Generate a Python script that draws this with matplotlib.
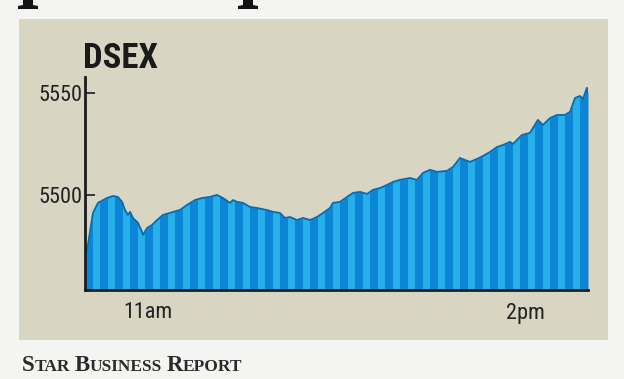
import matplotlib
matplotlib.use("Agg")
import matplotlib.pyplot as plt
from matplotlib.patches import Rectangle, Polygon
from matplotlib import font_manager

# ---- data (minutes after 10:30 market open, DSEX index value) ----
minutes = [0, 1.4, 3.8, 6.2, 10.5, 13.4, 15.7, 17.7, 19.1, 20.5, 21.5, 22.9, 25.3,
           27.2, 27.7, 29.6, 32.0, 34.4, 37.2, 40.6, 42.0, 45.3, 48.7, 52.5, 55.8,
           59.6, 63.0, 65.8, 69.2, 70.6, 72.5, 75.4, 78.7, 82.1, 86.8, 89.7, 93.0,
           95.4, 97.8, 101.2, 104.0, 107.4, 110.7, 113.6, 116.9, 118.3, 121.7, 125.0,
           127.9, 131.2, 134.6, 137.4, 140.8, 144.1, 147.0, 150.3, 155.1, 158.4,
           161.3, 164.6, 168.0, 172.7, 175.6, 178.9, 183.7, 187.0, 189.9, 193.3,
           196.6, 199.5, 202.8, 204.2, 208.5, 212.3, 216.1, 218.5, 221.9, 225.2,
           229.0, 231.4, 233.8, 236.2, 237.6, 239.5, 240]
dsex = [5469.5, 5475.5, 5491.2, 5496.1, 5498.5, 5499.5, 5499.0, 5496.6, 5492.6, 5490.2,
        5491.7, 5488.7, 5486.3, 5481.9, 5480.4, 5483.8, 5485.3, 5487.7, 5490.2, 5491.2,
        5491.7, 5492.6, 5495.1, 5497.5, 5498.5, 5499.0, 5500.0, 5498.5, 5496.1, 5497.5,
        5496.6, 5496.1, 5494.1, 5493.6, 5492.6, 5491.7, 5491.2, 5488.7, 5489.2, 5487.7,
        5488.7, 5487.7, 5489.2, 5491.2, 5493.6, 5496.1, 5496.6, 5499.0, 5501.0, 5501.5,
        5500.5, 5502.5, 5503.4, 5504.9, 5506.4, 5507.4, 5508.3, 5507.4, 5510.8, 5512.3,
        5511.3, 5511.8, 5513.7, 5518.1, 5516.2, 5517.6, 5519.1, 5521.1, 5523.5, 5524.5,
        5526.0, 5525.0, 5529.4, 5530.4, 5536.8, 5534.3, 5537.7, 5539.2, 5539.2, 5540.7,
        5547.5, 5548.5, 5547.1, 5552.5, 5549.5]
x_tick_pos = [30, 210]          # 11:00 and 14:00
x_tick_labels = ["11am", "2pm"]
y_ticks = [5500, 5550]
title = "DSEX"
source = "Star Business Report"

# ---- pick a condensed sans if one is installed ----
names = {f.name for f in font_manager.fontManager.ttflist}
cond_family = None
cond_stretch = "normal"
for cand in ["Roboto Condensed", "Liberation Sans Narrow", "Open Sans Condensed",
             "Noto Sans Condensed", "DejaVu Sans Condensed", "Arial Narrow"]:
    if cand in names:
        cond_family = cand
        break
if cond_family is None:
    # look for any stretch-condensed face
    for f in font_manager.fontManager.ttflist:
        if str(f.stretch) in ("condensed", "semi-condensed", "extra-condensed", "75", "87"):
            cond_family = f.name
            cond_stretch = f.stretch
            break
if cond_family is None:
    cond_family = "DejaVu Sans"
narrow = [cond_family, "DejaVu Sans"]

# ---- style ----
W, H = 624, 379
fig = plt.figure(figsize=(W / 100, H / 100), dpi=100)
fig.patch.set_facecolor("#f4f4f2")

panel = Rectangle((19 / W, 1 - 340 / H), (608 - 19) / W, (340 - 19) / H,
                  transform=fig.transFigure, facecolor="#d8d5c2", edgecolor="none", zorder=-5)
fig.patches.append(panel)

# cut-off headline remnants at the very top (descender feet)
for xc in [28, 248]:
    pts = [(xc - 5, 0), (xc + 5, 0), (xc + 5, 5), (xc + 10, 6), (xc + 10, 9),
           (xc - 10, 9), (xc - 10, 6), (xc - 5, 5)]
    fig.patches.append(Polygon([(px / W, 1 - py / H) for px, py in pts], closed=True,
                               transform=fig.transFigure, facecolor="#141414",
                               edgecolor="none", zorder=-4))

ax = fig.add_axes([85 / W, 1 - 290 / H, (588 - 85) / W, (290 - 77) / H])
ax.set_facecolor("none")
ybot, ytop = 5453.4, 5557.8
ax.set_xlim(0, 240)
ax.set_ylim(ybot, ytop)

dark = "#0b86d6"
light = "#27afe9"
poly = ax.fill_between(minutes, ybot, dsex, color=dark, linewidth=0, zorder=1)
n_stripes = 67
sw = 240 / n_stripes
for i in range(1, n_stripes, 2):
    r = ax.axvspan(i * sw, (i + 1) * sw, color=light, linewidth=0, zorder=2)
    r.set_clip_path(poly.get_paths()[0], poly.get_transform())
ax.plot(minutes, dsex, color="#0a6aae", linewidth=1.3, zorder=3)

for s in ["top", "right"]:
    ax.spines[s].set_visible(False)
for s in ["left", "bottom"]:
    ax.spines[s].set_linewidth(2.0)
    ax.spines[s].set_color("#1c1c1c")
    ax.spines[s].set_zorder(5)

tick_font = dict(fontfamily=narrow, fontstretch=cond_stretch, fontsize=16, color="#222222")
ax.set_yticks(y_ticks)
ax.set_yticklabels([str(v) for v in y_ticks], **tick_font)
ax.tick_params(axis="y", direction="in", length=7, width=1.2, color="#1c1c1c", pad=2)
ax.set_xticks(x_tick_pos)
ax.set_xticklabels(x_tick_labels, **tick_font)
ax.tick_params(axis="x", length=0, pad=9)

fig.text(83 / W, 1 - 42 / H, title, fontfamily=narrow, fontstretch=cond_stretch,
         fontweight="bold", fontsize=25, va="top", ha="left", color="#1a1a1a")

# small-caps source line
renderer = fig.canvas.get_renderer()
xcur = 22
base_y = 1 - 371 / H
for word in source.upper().split(" "):
    for txt, fs in [(word[0], 16.5), (word[1:], 12.5)]:
        t = fig.text(xcur / W, base_y, txt, fontfamily=["Liberation Serif", "DejaVu Serif"],
                     fontweight="bold", fontsize=fs, va="baseline", ha="left", color="#2a2a2a")
        xcur += t.get_window_extent(renderer=renderer).width
    xcur += 4.5

fig.savefig("out.png", dpi=100, facecolor=fig.get_facecolor())
